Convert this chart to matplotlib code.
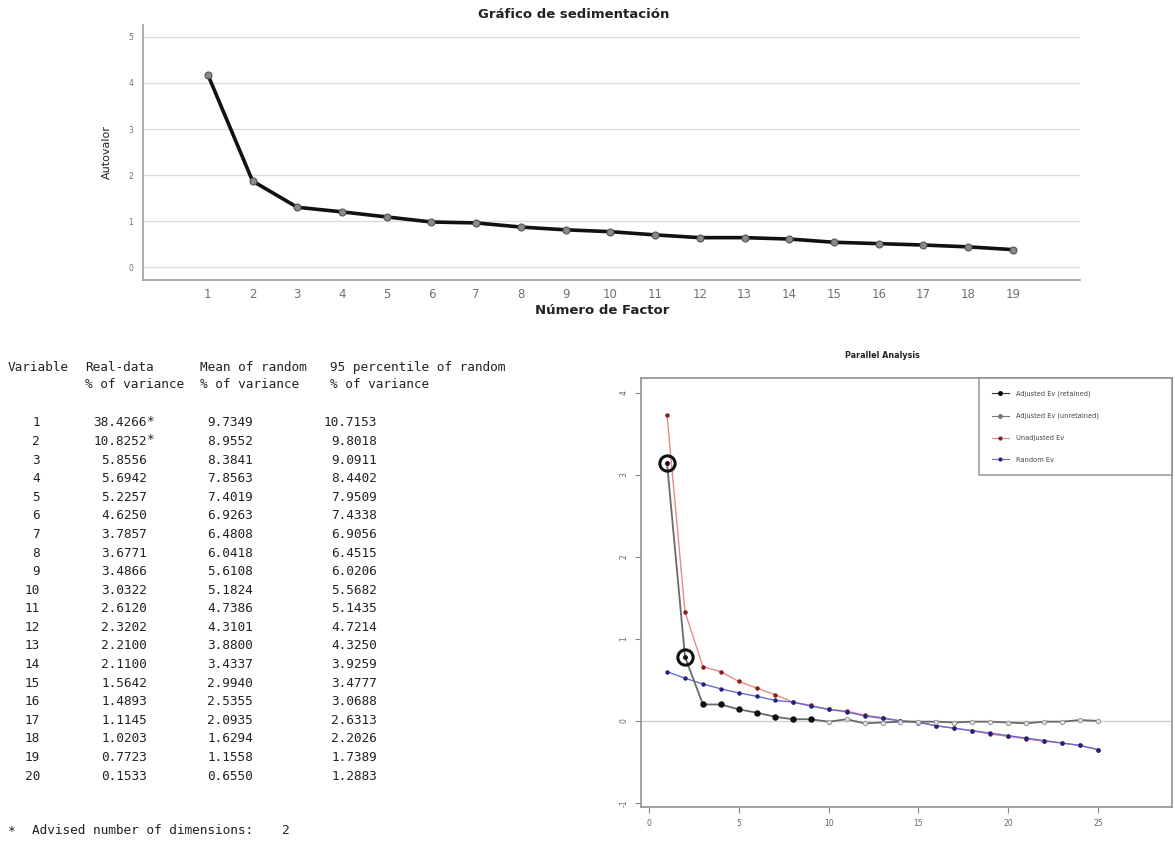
import matplotlib
matplotlib.use("Agg")
import matplotlib.pyplot as plt
from matplotlib.lines import Line2D

# ---------------- data ----------------
scree_factors = list(range(1, 20))
scree_eigen = [4.18, 1.87, 1.30, 1.20, 1.09, 0.98, 0.96, 0.87, 0.81, 0.77,
               0.70, 0.64, 0.64, 0.61, 0.54, 0.51, 0.48, 0.44, 0.38]

tbl_variable = list(range(1, 21))
tbl_real = ["38.4266", "10.8252", "5.8556", "5.6942", "5.2257", "4.6250", "3.7857",
            "3.6771", "3.4866", "3.0322", "2.6120", "2.3202", "2.2100", "2.1100",
            "1.5642", "1.4893", "1.1145", "1.0203", "0.7723", "0.1533"]
tbl_real_star = [True, True] + [False] * 18
tbl_mean = ["9.7349", "8.9552", "8.3841", "7.8563", "7.4019", "6.9263", "6.4808",
            "6.0418", "5.6108", "5.1824", "4.7386", "4.3101", "3.8800", "3.4337",
            "2.9940", "2.5355", "2.0935", "1.6294", "1.1558", "0.6550"]
tbl_p95 = ["10.7153", "9.8018", "9.0911", "8.4402", "7.9509", "7.4338", "6.9056",
           "6.4515", "6.0206", "5.5682", "5.1435", "4.7214", "4.3250", "3.9259",
           "3.4777", "3.0688", "2.6313", "2.2026", "1.7389", "1.2883"]
advised_dims = 2

pa_x = list(range(1, 26))
pa_unadjusted = [3.73, 1.33, 0.66, 0.60, 0.48, 0.40, 0.32, 0.23, 0.19, 0.14,
                 0.12, 0.07, 0.04, 0.00, -0.01, -0.06, -0.09, -0.12, -0.16, -0.19,
                 -0.22, -0.25, -0.27, -0.30, -0.35]
pa_random = [0.60, 0.52, 0.45, 0.39, 0.34, 0.30, 0.25, 0.23, 0.18, 0.14,
             0.11, 0.06, 0.03, 0.00, -0.02, -0.06, -0.09, -0.12, -0.15, -0.18,
             -0.21, -0.24, -0.27, -0.30, -0.35]
pa_adjusted = [3.14, 0.78, 0.20, 0.20, 0.14, 0.10, 0.05, 0.02, 0.02, -0.01,
               0.02, -0.03, -0.02, -0.01, -0.01, -0.01, -0.02, -0.01, -0.01, -0.02,
               -0.03, -0.01, -0.01, 0.01, 0.00]
pa_retained = 2
pa_legend = ["Adjusted Ev (retained)", "Adjusted Ev (unretained)", "Unadjusted Ev", "Random Ev"]

W, H = 1175, 841
fig = plt.figure(figsize=(W / 100, H / 100), dpi=100)
fig.patch.set_facecolor("white")


def fx(px):
    return px / W


def fy(py):
    return 1 - py / H


# ---------------- scree plot (top) ----------------
ax1 = fig.add_axes([fx(143), fy(280), fx(1080) - fx(143), fy(25) - fy(280)])
ax1.set_xlim(-0.45, 20.5)
ax1.set_ylim(-0.28, 5.26)
for v in range(0, 6):
    ax1.axhline(v, color="#dcdcdc", lw=1.0, zorder=0)
ax1.plot(scree_factors, scree_eigen, color="#111111", lw=2.6, zorder=2,
         marker="o", ms=5, mfc="#8a8a8a", mec="#555555", mew=0.8)
ax1.set_xticks(scree_factors)
ax1.set_xticklabels([str(v) for v in scree_factors], color="#707070", fontsize=8.5,
                    family="DejaVu Sans")
ax1.set_yticks(range(0, 6))
ax1.set_yticklabels([str(v) for v in range(0, 6)], color="#707070", fontsize=5.5)
ax1.tick_params(length=0, pad=6)
ax1.tick_params(axis="y", pad=7)
for s in ["top", "right"]:
    ax1.spines[s].set_visible(False)
for s in ["left", "bottom"]:
    ax1.spines[s].set_color("#a0a0a0")
    ax1.spines[s].set_linewidth(1.2)
ax1.set_ylabel("Autovalor", fontsize=8, color="#222222", labelpad=12)
fig.text(fx(574), fy(15), "Gráfico de sedimentación", ha="center", va="center",
         fontsize=9.5, fontweight="bold", color="#222222")
fig.text(fx(602), fy(311), "Número de Factor", ha="center", va="center",
         fontsize=9.5, fontweight="bold", color="#222222")

# ---------------- table (bottom left) ----------------
mono = dict(family="DejaVu Sans Mono", fontsize=9.2, color="#222222", va="center")
fig.text(fx(8), fy(367), "Variable", ha="left", **mono)
fig.text(fx(85), fy(367), "Real-data", ha="left", **mono)
fig.text(fx(85), fy(385), "% of variance", ha="left", **mono)
fig.text(fx(200), fy(367), "Mean of random", ha="left", **mono)
fig.text(fx(200), fy(385), "% of variance", ha="left", **mono)
fig.text(fx(330), fy(367), "95 percentile of random", ha="left", **mono)
fig.text(fx(330), fy(385), "% of variance", ha="left", **mono)

row0, rstep = 423, (776 - 423) / 19
for i, v in enumerate(tbl_variable):
    y = fy(row0 + i * rstep)
    fig.text(fx(40), y, str(v), ha="right", **mono)
    fig.text(fx(147), y, tbl_real[i], ha="right", **mono)
    if tbl_real_star[i]:
        fig.text(fx(147), y + 0.002, "*", ha="left", **mono)
    fig.text(fx(253), y, tbl_mean[i], ha="right", **mono)
    fig.text(fx(377), y, tbl_p95[i], ha="right", **mono)
fig.text(fx(8), fy(831), "*", ha="left", **mono)
fig.text(fx(32), fy(831), "Advised number of dimensions:", ha="left", **mono)
fig.text(fx(290), fy(831), str(advised_dims), ha="right", **mono)

# ---------------- parallel analysis (bottom right) ----------------
ax2 = fig.add_axes([fx(641), fy(807), fx(1172) - fx(641), fy(378) - fy(807)])
ax2.set_xlim(-0.45, 29.12)
ax2.set_ylim(-1.05, 4.18)
ax2.axhline(0, color="#d0d0d0", lw=1.0, zorder=0)
c_red, c_blue, c_adj = "#e58a8a", "#6a6ad0", "#6a6a6a"
ax2.plot(pa_x, pa_unadjusted, color=c_red, lw=1.0, zorder=2,
         marker="o", ms=2.2, mfc="#8b1a1a", mec="#8b1a1a")
ax2.plot(pa_x, pa_random, color=c_blue, lw=1.0, zorder=2,
         marker="o", ms=2.2, mfc="#22227a", mec="#22227a")
ax2.plot(pa_x, pa_adjusted, color=c_adj, lw=1.3, zorder=3)
ax2.plot(pa_x[pa_retained:9], pa_adjusted[pa_retained:9], ls="none", marker="o",
         ms=3.6, mfc="#111111", mec="#111111", zorder=4)
ax2.plot(pa_x[9:], pa_adjusted[9:], ls="none", marker="o",
         ms=3.2, mfc="#e0e0e0", mec="#9a9a9a", mew=0.7, zorder=4)
ax2.plot(pa_x[:pa_retained], pa_adjusted[:pa_retained], ls="none", marker="o",
         ms=11, mfc="none", mec="#111111", mew=2.2, zorder=5)
ax2.plot(pa_x[:pa_retained], pa_adjusted[:pa_retained], ls="none", marker="o",
         ms=2.5, mfc="#111111", mec="#111111", zorder=5)

ax2.set_xticks(range(0, 26, 5))
ax2.set_xticklabels([str(v) for v in range(0, 26, 5)], fontsize=5.5, color="#666666")
ax2.set_yticks(range(-1, 5))
ax2.set_yticklabels([str(v) for v in range(-1, 5)], fontsize=5.5, color="#666666",
                    rotation=90, va="center")
ax2.tick_params(direction="out", length=4, width=0.8, color="#888888", pad=5)
for s in ax2.spines.values():
    s.set_color("#999999")
    s.set_linewidth(1.3)
fig.text(fx(882), fy(355), "Parallel Analysis", ha="center", va="center",
         fontsize=5.8, fontweight="bold", color="#222222")

handles = [
    Line2D([], [], color="#333333", lw=0.8, marker="o", ms=2.5, mfc="#000000", mec="#000000"),
    Line2D([], [], color="#777777", lw=0.8, marker="o", ms=2.5, mfc="#777777", mec="#777777"),
    Line2D([], [], color=c_red, lw=0.8, marker="o", ms=2.0, mfc="#8b1a1a", mec="#8b1a1a"),
    Line2D([], [], color=c_blue, lw=0.8, marker="o", ms=2.0, mfc="#22227a", mec="#22227a"),
]
leg = ax2.legend(handles, pa_legend, loc="upper left", mode="expand",
                 bbox_to_anchor=(0.6365, 0.0, 0.3635, 1.0), borderaxespad=0,
                 fontsize=4.8, frameon=True, fancybox=False, handlelength=2.6,
                 labelspacing=2.35, borderpad=1.9, handletextpad=1.0)
leg.get_frame().set_edgecolor("#888888")
leg.get_frame().set_linewidth(1.2)
for t in leg.get_texts():
    t.set_color("#444444")

fig.savefig("out.png", dpi=100, facecolor="white")
